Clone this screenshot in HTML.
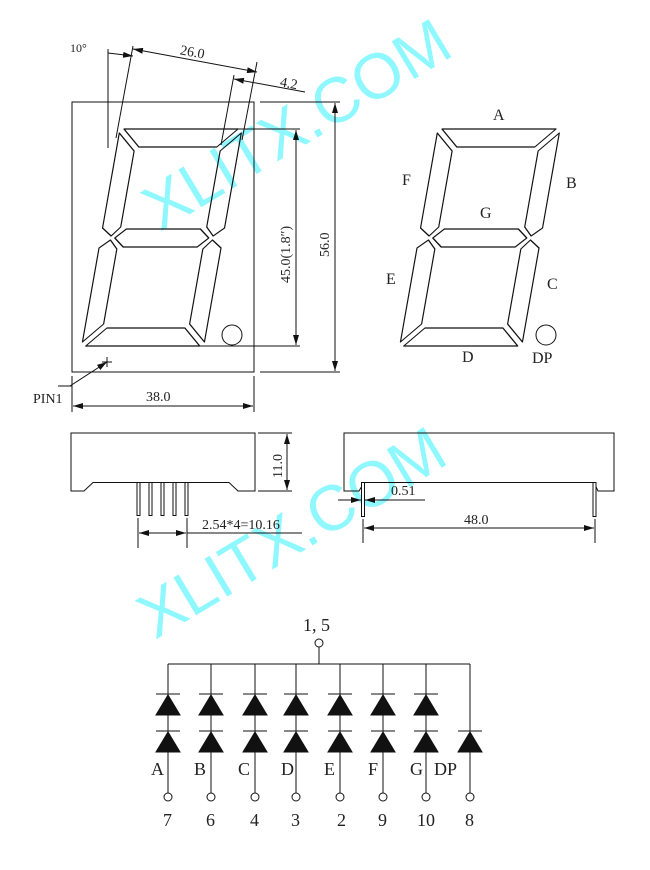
<!DOCTYPE html>
<html><head><meta charset="utf-8"><style>
html,body{margin:0;padding:0;background:#fff;}
svg{display:block;}
text{font-family:"Liberation Serif",serif;fill:#222;}
text.wm{font-family:"Liberation Sans",sans-serif;fill:#8ff8ff;}
</style></head><body>
<svg width="650" height="870" viewBox="0 0 650 870" xmlns="http://www.w3.org/2000/svg">
<defs>
<marker id="ar" viewBox="0 0 10 6" refX="10" refY="3" markerWidth="10" markerHeight="6" orient="auto-start-reverse" markerUnits="userSpaceOnUse"><path d="M0,0 L10,3 L0,6 z" fill="#111"/></marker>
<g id="digit" fill="none" stroke="#111" stroke-width="1.2" stroke-linejoin="round">
<polygon points="4,0 118,0 100,18 22,18"/>
<polygon points="0,4 18,22 18,98 10,107 0,99"/>
<polygon points="122,4 122,99 112,107 104,98 104,22"/>
<polygon points="14,109 24,100 98,100 108,109 98,118 24,118"/>
<polygon points="0,119 10,111 18,120 18,195 0,213"/>
<polygon points="122,119 122,213 104,195 104,120 112,111"/>
<polygon points="22,199 100,199 118,217 4,217"/>
</g>
<g id="col2" stroke="#111" stroke-width="1" fill="#111">
<line x1="0" y1="664" x2="0" y2="793"/>
<line x1="-12" y1="694" x2="12" y2="694"/>
<polygon points="0,695 -12,715 12,715"/>
<line x1="-12" y1="731" x2="12" y2="731"/>
<polygon points="0,732 -12,752 12,752"/>
<circle cx="0" cy="797" r="4" fill="#fff"/>
</g>
</defs>

<text class="wm" x="0" y="0" font-size="64" transform="translate(160,232) rotate(-31)">XLITX.COM</text>
<text class="wm" x="0" y="0" font-size="64" transform="translate(155,640) rotate(-31)">XLITX.COM</text>

<g stroke="#111" stroke-width="1" fill="none">
<rect x="72" y="102" width="182" height="270"/>
<circle cx="232" cy="335" r="10"/>
<circle cx="546" cy="335" r="10"/>
<line x1="108" y1="49" x2="108" y2="148"/>
<line x1="133" y1="46" x2="116" y2="138"/>
<line x1="257" y1="62" x2="242" y2="140"/>
<line x1="234" y1="75" x2="221" y2="145"/>
<line x1="108" y1="53" x2="133" y2="56" marker-end="url(#ar)"/>
<line x1="133" y1="49" x2="257" y2="72" marker-start="url(#ar)" marker-end="url(#ar)"/>
<line x1="234" y1="79" x2="305" y2="92" marker-start="url(#ar)"/>
<line x1="137" y1="129" x2="300" y2="129"/>
<line x1="103" y1="346" x2="300" y2="346"/>
<line x1="296" y1="130" x2="296" y2="345" marker-start="url(#ar)" marker-end="url(#ar)"/>
<line x1="260" y1="102" x2="340" y2="102"/>
<line x1="260" y1="372" x2="340" y2="372"/>
<line x1="335" y1="103" x2="335" y2="371" marker-start="url(#ar)" marker-end="url(#ar)"/>
<line x1="72" y1="376" x2="72" y2="412"/>
<line x1="254" y1="376" x2="254" y2="412"/>
<line x1="73" y1="406" x2="253" y2="406" marker-start="url(#ar)" marker-end="url(#ar)"/>
<line x1="58" y1="386" x2="72" y2="386"/>
<line x1="70" y1="386" x2="107" y2="362" marker-end="url(#ar)"/>
<line x1="102" y1="362" x2="112" y2="362"/>
<line x1="107" y1="357" x2="107" y2="367"/>

<path d="M71,433 H255 V491 H238 L229,482.5 H93 L84,491 H71 Z"/>
<g fill="#fff"><rect x="137" y="482.5" width="3" height="33"/><rect x="149" y="482.5" width="3" height="33"/><rect x="161" y="482.5" width="3" height="33"/><rect x="173" y="482.5" width="3" height="33"/><rect x="185" y="482.5" width="3" height="33"/></g>
<line x1="138" y1="518" x2="138" y2="548"/>
<line x1="187" y1="518" x2="187" y2="548"/>
<line x1="139" y1="533" x2="186" y2="533" marker-start="url(#ar)" marker-end="url(#ar)"/>
<line x1="187" y1="533" x2="302" y2="533"/>
<line x1="258" y1="433" x2="292" y2="433"/>
<line x1="258" y1="491" x2="292" y2="491"/>
<line x1="287" y1="434" x2="287" y2="490" marker-start="url(#ar)" marker-end="url(#ar)"/>

<path d="M344,433 H614 V491 H598 L594,482.5 H364 L359,491 H344 Z"/>
<g fill="#fff"><rect x="361.5" y="482.5" width="3" height="34"/><rect x="593" y="482.5" width="3" height="34"/></g>
<line x1="338" y1="500" x2="361" y2="500" marker-end="url(#ar)"/>
<line x1="425" y1="500" x2="365" y2="500" marker-end="url(#ar)"/>
<line x1="363" y1="519" x2="363" y2="543"/>
<line x1="595" y1="519" x2="595" y2="543"/>
<line x1="364" y1="528" x2="594" y2="528" marker-start="url(#ar)" marker-end="url(#ar)"/>

<circle cx="319" cy="643" r="4"/>
<line x1="319" y1="647" x2="319" y2="664"/>
<line x1="168" y1="664" x2="470" y2="664"/>
</g>

<use href="#digit" transform="translate(120,129) skewX(-10)"/>
<use href="#digit" transform="translate(438,129) skewX(-10)"/>

<use href="#col2" x="168"/><use href="#col2" x="211"/><use href="#col2" x="255"/><use href="#col2" x="296"/><use href="#col2" x="340"/><use href="#col2" x="383"/><use href="#col2" x="426"/>
<g stroke="#111" stroke-width="1" fill="#111">
<line x1="470" y1="664" x2="470" y2="793"/>
<line x1="458" y1="731" x2="482" y2="731"/>
<polygon points="470,732 458,752 482,752"/>
<circle cx="470" cy="797" r="4" fill="#fff"/>
</g>

<g font-size="14">
<text x="70" y="52" font-size="12">10°</text>
<text x="180" y="57" transform="rotate(10.5 195 53)">26.0</text>
<text x="280" y="88" transform="rotate(10.5 290 84)">4.2</text>
<text x="0" y="0" transform="translate(290,283) rotate(-90)">45.0(1.8″)</text>
<text x="0" y="0" transform="translate(329,257) rotate(-90)">56.0</text>
<text x="146" y="401">38.0</text>
<text x="33" y="403">PIN1</text>
<text x="0" y="0" transform="translate(282,478) rotate(-90)">11.0</text>
<text x="202" y="529">2.54*4=10.16</text>
<text x="391" y="495">0.51</text>
<text x="464" y="524">48.0</text>
<text x="493" y="120" font-size="16">A</text>
<text x="566" y="188" font-size="16">B</text>
<text x="402" y="185" font-size="16">F</text>
<text x="480" y="218" font-size="16">G</text>
<text x="386" y="284" font-size="16">E</text>
<text x="547" y="289" font-size="16">C</text>
<text x="462" y="362" font-size="16">D</text>
<text x="532" y="363" font-size="16">DP</text>
</g>
<g font-size="18">
<text x="303" y="631">1, 5</text>
<text x="151" y="775">A</text><text x="194" y="775">B</text><text x="238" y="775">C</text><text x="281" y="775">D</text><text x="324" y="775">E</text><text x="368" y="775">F</text><text x="410" y="775">G</text><text x="434" y="775">DP</text>
<text x="163" y="826">7</text><text x="206" y="826">6</text><text x="250" y="826">4</text><text x="291" y="826">3</text><text x="337" y="826">2</text><text x="378" y="826">9</text><text x="417" y="826">10</text><text x="465" y="826">8</text>
</g>
</svg>
</body></html>
